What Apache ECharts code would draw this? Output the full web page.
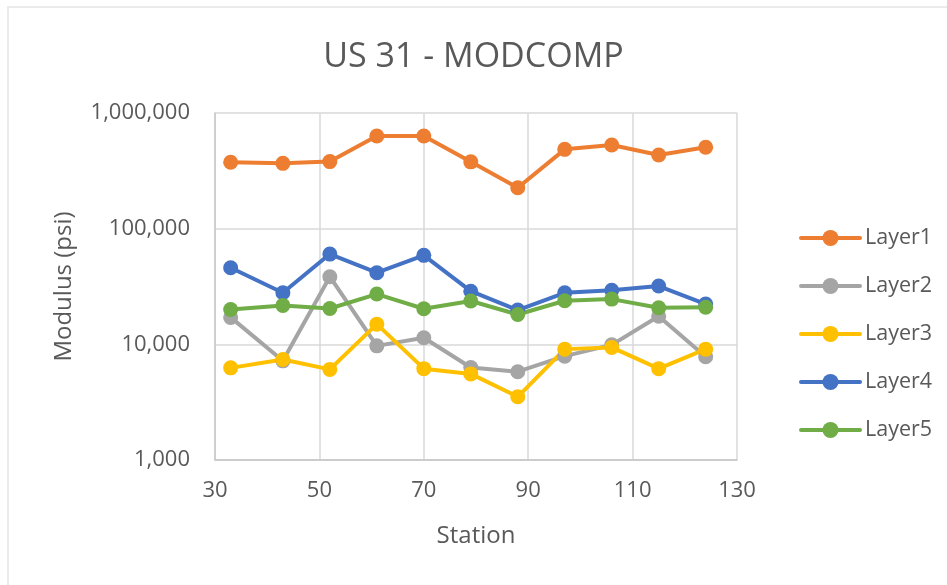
<!DOCTYPE html>
<html>
<head>
<meta charset="utf-8">
<style>
  html, body { margin: 0; padding: 0; background: #ffffff; }
  #chart { width: 947px; height: 585px; }
</style>
<script src="https://cdn.jsdelivr.net/npm/echarts@6/dist/echarts.min.js"></script>
</head>
<body>
<div id="chart"></div>
<script>
// Station positions along US 31
const stations = [33, 43, 52, 61, 70, 79, 88, 97, 106, 115, 124];

// Backcalculated layer moduli (psi)
const layer1 = [375000, 367000, 380000, 632000, 632000, 378000, 226000, 485000, 529000, 433000, 505000];
const layer2 = [17100, 7200, 38400, 9700, 11400, 6300, 5800, 7900, 9900, 17500, 7800];
const layer3 = [6260, 7400, 6070, 14950, 6160, 5550, 3520, 9090, 9400, 6160, 9090];
const layer4 = [45900, 27900, 60300, 41600, 58800, 28800, 19800, 27900, 29300, 31900, 22300];
const layer5 = [20000, 21700, 20400, 27200, 20300, 23700, 18100, 23800, 24600, 20700, 20900];

const layerNames = ['Layer1', 'Layer2', 'Layer3', 'Layer4', 'Layer5'];
const layerValues = [layer1, layer2, layer3, layer4, layer5];
const layerColors = ['#ED7D31', '#A5A5A5', '#FFC000', '#4472C4', '#70AD47'];

const FONT = '"Open Sans", "Liberation Sans", sans-serif';
const TEXT = '#595959';

const chart = echarts.init(document.getElementById('chart'), null, { renderer: 'canvas' });

const series = layerNames.map((name, i) => ({
  name: name,
  type: 'line',
  data: stations.map((s, j) => [s, layerValues[i][j]]),
  symbol: 'circle',
  symbolSize: 15,
  showSymbol: true,
  lineStyle: { width: 4, color: layerColors[i], cap: 'round', join: 'round' },
  itemStyle: { color: layerColors[i] },
  emphasis: { disabled: true },
  animation: false
}));

chart.setOption({
  backgroundColor: '#ffffff',
  animation: false,
  textStyle: { fontFamily: FONT },
  graphic: [{
    type: 'rect',
    shape: { x: 8, y: 7, width: 1000, height: 1000 },
    style: { fill: 'none', stroke: '#EBEBEB', lineWidth: 2 },
    silent: true
  }],
  title: {
    text: 'US 31 - MODCOMP',
    left: 'center',
    top: 35,
    textStyle: { fontFamily: FONT, fontSize: 34, fontWeight: 'normal', color: TEXT }
  },
  grid: { left: 215, right: 210, top: 113, bottom: 125, containLabel: false },
  legend: {
    orient: 'vertical',
    left: 794,
    top: 221,
    itemWidth: 59,
    itemHeight: 20,
    itemGap: 24,
    lineStyle: { width: 4 },
    textStyle: { fontFamily: FONT, fontSize: 21.5, color: TEXT, lineHeight: 24 },
    data: layerNames
  },
  xAxis: {
    type: 'value',
    min: 30,
    max: 130,
    interval: 20,
    name: 'Station',
    nameLocation: 'middle',
    nameGap: 64,
    nameTextStyle: { fontFamily: FONT, fontSize: 24, color: TEXT },
    axisLine: { show: true, lineStyle: { color: '#C8C8C8', width: 1.5 } },
    axisTick: { show: false },
    axisLabel: { fontFamily: FONT, fontSize: 22, color: TEXT, margin: 20 },
    splitLine: { show: true, lineStyle: { color: '#D9D9D9', width: 1.5 } }
  },
  yAxis: {
    type: 'log',
    logBase: 10,
    min: 1000,
    max: 1000000,
    name: 'Modulus (psi)',
    nameLocation: 'middle',
    nameGap: 139,
    nameRotate: 90,
    nameTextStyle: { fontFamily: FONT, fontSize: 24, color: TEXT },
    axisLine: { show: true, lineStyle: { color: '#C8C8C8', width: 1.5 } },
    axisTick: { show: false },
    axisLabel: {
      fontFamily: FONT, fontSize: 22, color: TEXT, margin: 25,
      formatter: v => Math.round(v).toLocaleString('en-US')
    },
    splitLine: { show: true, lineStyle: { color: '#D9D9D9', width: 1.5 } }
  },
  series: series
});
</script>
</body>
</html>
